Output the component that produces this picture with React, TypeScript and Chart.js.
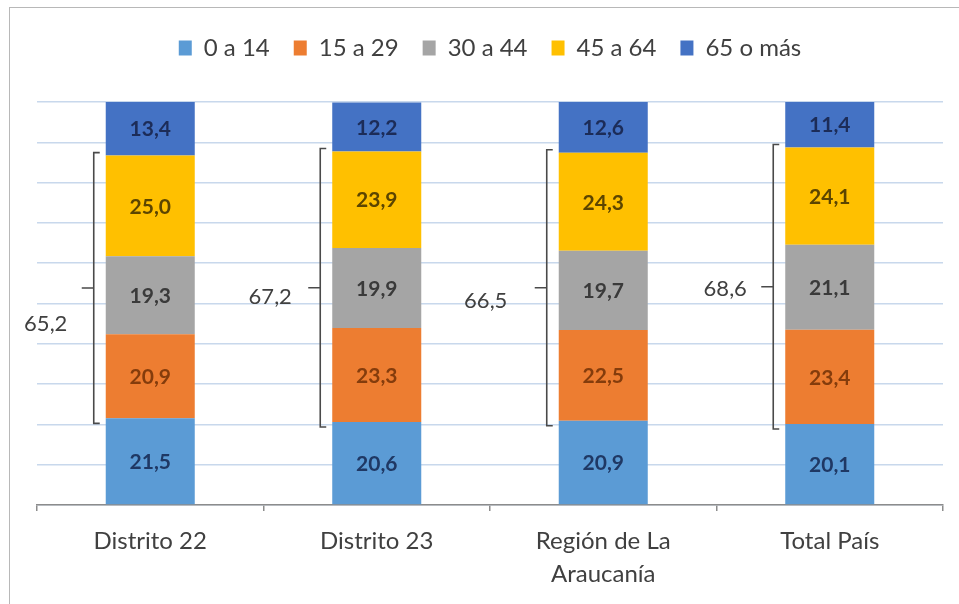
import React, { useEffect, useRef } from 'react';
import { Chart, registerables } from 'chart.js';

Chart.register(...registerables);

// ---- data ----
const categories: string[][] = [['Distrito 22'], ['Distrito 23'], ['Región de La', 'Araucanía'], ['Total País']];
const seriesNames = ['0 a 14', '15 a 29', '30 a 44', '45 a 64', '65 o más'];
const age0to14 = [21.5, 20.6, 20.9, 20.1];
const age15to29 = [20.9, 23.3, 22.5, 23.4];
const age30to44 = [19.3, 19.9, 19.7, 21.1];
const age45to64 = [25.0, 23.9, 24.3, 24.1];
const age65plus = [13.4, 12.2, 12.6, 11.4];
const workingAgeTotals = [65.2, 67.2, 66.5, 68.6];
const yMin = 0;
const yMax = 100;
const yStep = 10;

// ---- styles / layout ----
const seriesColors = ['#5b9bd5', '#ed7d31', '#a5a5a5', '#ffc000', '#4472c4'];
const labelColors = ['#1f3864', '#843c0c', '#3a3a3a', '#5c4500', '#1c2c58'];
const bracketLabelShift: number[][] = [[-48, 36], [-50, 9], [-61, 13], [-48, 2]];
const FONT = 'Lato, "Open Sans", sans-serif';

const fmt = (v: number) => v.toFixed(1).replace('.', ',');

const legendHeightPlugin = {
  id: 'legendHeight',
  beforeLayout(chart: any) {
    const lg = chart.legend;
    if (lg && !lg.__patched) {
      const orig = lg.fit.bind(lg);
      lg.fit = function () {
        orig();
        this.height = 90;
      };
      lg.__patched = true;
    }
  },
};

const barLabelPlugin = {
  id: 'barLabels',
  afterDatasetsDraw(chart: any) {
    const ctx = chart.ctx;
    ctx.save();
    ctx.font = `bold 21px ${FONT}`;
    ctx.textAlign = 'center';
    ctx.textBaseline = 'middle';
    chart.data.datasets.forEach((ds: any, di: number) => {
      const meta = chart.getDatasetMeta(di);
      meta.data.forEach((el: any, i: number) => {
        const { x, y, base } = el.getProps(['x', 'y', 'base'], true);
        ctx.fillStyle = labelColors[di];
        ctx.fillText(fmt(ds.data[i]), x, (y + base) / 2 + 1);
      });
    });
    ctx.restore();
  },
};

const bracketPlugin = {
  id: 'brackets',
  afterDatasetsDraw(chart: any) {
    const ctx = chart.ctx;
    const yScale = chart.scales.y;
    const m0 = chart.getDatasetMeta(0);
    ctx.save();
    ctx.strokeStyle = '#4a4a4a';
    ctx.lineWidth = 1.6;
    ctx.fillStyle = '#404040';
    ctx.font = `22px ${FONT}`;
    ctx.textAlign = 'center';
    ctx.textBaseline = 'middle';
    categories.forEach((_, i) => {
      const low = age0to14[i];
      const high = low + age15to29[i] + age30to44[i] + age45to64[i];
      const el = m0.data[i];
      const { x, width } = el.getProps(['x', 'width'], true);
      const lineX = x - width / 2 - 12;
      const yTop = yScale.getPixelForValue(high) - 3;
      const yBot = yScale.getPixelForValue(low) + 5;
      const yMid = (yTop + yBot) / 2;
      ctx.beginPath();
      ctx.moveTo(lineX + 6, yTop);
      ctx.lineTo(lineX, yTop);
      ctx.lineTo(lineX, yBot);
      ctx.lineTo(lineX + 6, yBot);
      ctx.moveTo(lineX, yMid);
      ctx.lineTo(lineX - 12, yMid);
      ctx.stroke();
      const [dx, dy] = bracketLabelShift[i];
      ctx.fillText(fmt(workingAgeTotals[i]), lineX + dx, yMid + dy);
    });
    ctx.restore();
  },
};

export default function App() {
  const ref = useRef<HTMLCanvasElement>(null);
  useEffect(() => {
    const series = [age0to14, age15to29, age30to44, age45to64, age65plus];
    const chart = new Chart(ref.current as HTMLCanvasElement, {
      type: 'bar',
      data: {
        labels: categories,
        datasets: series.map((d, i) => ({
          label: seriesNames[i],
          data: d,
          backgroundColor: seriesColors[i],
          borderWidth: 0,
          barPercentage: 0.393,
          categoryPercentage: 1,
        })),
      },
      options: {
        animation: false,
        responsive: false,
        maintainAspectRatio: false,
        layout: { padding: { left: 37, right: 16, top: 12, bottom: 0 } },
        plugins: {
          legend: {
            position: 'top',
            labels: {
              font: { family: FONT, size: 24 },
              color: '#404040',
              boxWidth: 13,
              boxHeight: 15,
              padding: 24,
            },
          },
          tooltip: { enabled: false },
        },
        scales: {
          x: {
            stacked: true,
            offset: true,
            grid: {
              display: true,
              drawOnChartArea: false,
              drawTicks: true,
              tickLength: 6,
              color: '#8c8c8c',
              lineWidth: 1.5,
              offset: true,
            },
            border: { display: true, color: '#8c8c8c', width: 1.5 },
            ticks: {
              font: { family: FONT, size: 24, lineHeight: 1.4 },
              color: '#404040',
              padding: 13,
              maxRotation: 0,
              autoSkip: false,
            },
            afterFit(scale: any) {
              scale.height = 99;
            },
          },
          y: {
            stacked: true,
            min: yMin,
            max: yMax,
            ticks: { display: false, stepSize: yStep },
            grid: { color: '#c8d8ec', lineWidth: 1.5, drawTicks: false },
            border: { display: false },
          },
        },
      },
      plugins: [legendHeightPlugin, barLabelPlugin, bracketPlugin],
    } as any);
    return () => chart.destroy();
  }, []);

  return (
    <div>
      <div
        style={{
          position: 'fixed',
          left: 9,
          top: 7,
          width: 960,
          height: 610,
          border: '1px solid #b8b8b8',
          boxSizing: 'border-box',
        }}
      />
      <canvas
        ref={ref}
        width={959}
        height={604}
        style={{ position: 'fixed', left: 0, top: 0, width: 959, height: 604 }}
      />
    </div>
  );
}
